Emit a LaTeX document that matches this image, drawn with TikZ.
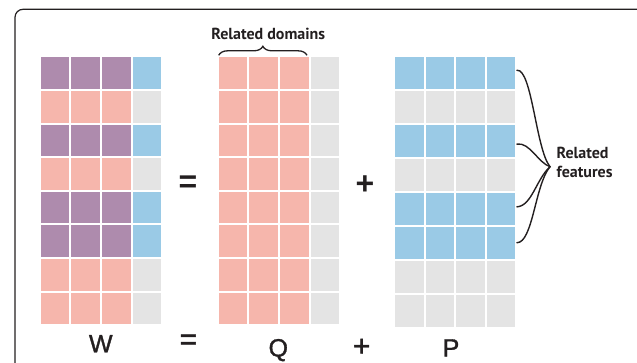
\documentclass[tikz,border=0pt]{standalone}
\usepackage{fontspec}
\setmainfont{Liberation Sans}
\newfontfamily\lblfont{PT Sans}
\newfontfamily\medfont[FakeBold=1.3]{Liberation Sans}
\usetikzlibrary{decorations.pathreplacing}
\definecolor{cpurple}{RGB}{174,139,173}
\definecolor{cpink}{RGB}{246,182,172}
\definecolor{cblue}{RGB}{154,202,230}
\definecolor{cgrey}{RGB}{228,228,228}
\definecolor{cink}{RGB}{35,31,32}
\begin{document}
\begin{tikzpicture}[x=1pt,y=-1pt,
  cell/.style={rectangle, inner sep=0pt, outer sep=0pt, minimum width=28.6pt, minimum height=31.6pt},
  pcell/.style={cell, minimum height=31.9pt},
  bigop/.style={text=cink, inner sep=0pt, font=\bfseries\fontsize{32}{32}\selectfont},
  smallop/.style={text=cink, inner sep=0pt, font=\medfont\fontsize{30}{30}\selectfont},
  mlabel/.style={text=cink, inner sep=0pt, anchor=base, font=\medfont\fontsize{25}{25}\selectfont},
  note/.style={text=cink, inner sep=0pt, font=\lblfont\bfseries\fontsize{16}{19.7}\selectfont},
  link/.style={draw=cink, line width=1.4pt, line cap=round}]
\useasboundingbox (0,0) rectangle (637,362);
\clip (0,0) rectangle (637,362);
\draw[cink, line width=1.2pt, rounded corners=8pt] (15,9.3) rectangle (645,380);
\foreach \r/\hot in {1/1,2/0,3/1,4/0,5/1,6/1,7/0,8/0} {
  \ifnum\hot=1 \def\wc{cpurple}\def\wl{cblue}\def\pc{cblue}
  \else \def\wc{cpink}\def\wl{cgrey}\def\pc{cgrey}\fi
  \pgfmathsetmacro\yc{57.3+(\r-1)*33.6+15.8}
  \pgfmathsetmacro\ypc{57.3+(\r-1)*33.9+15.95}
  \foreach \c in {1,...,4} {
    \pgfmathsetmacro\dx{(\c-1)*30.6+14.3}
    \ifnum\c<4
      \node[cell, fill=\wc] (W-\r-\c) at (40.7+\dx,\yc) {};
      \node[cell, fill=cpink] (Q-\r-\c) at (218.7+\dx,\yc) {};
    \else
      \node[cell, fill=\wl] (W-\r-\c) at (40.7+\dx,\yc) {};
      \node[cell, fill=cgrey] (Q-\r-\c) at (218.7+\dx,\yc) {};
    \fi
    \node[pcell, fill=\pc] (P-\r-\c) at (395+\dx,\ypc) {};
  }
}
% operators between matrices
\node[bigop] (eqmid) at (188,184) {=};
\node[bigop] (plusmid) at (365,184.7) {+};
% bottom labels
\node[mlabel] (Wlbl) at (100.8,352.3) {W};
\node[smallop] (eqbot) at (188.3,342) {=};
\node[mlabel] (Qlbl) at (278.3,356.5) {Q};
\node[smallop] (plusbot) at (361.7,347.5) {+};
\node[mlabel] (Plbl) at (451,356.5) {P};
% related domains
\draw[cink, line width=1.3pt, decorate, decoration={brace, amplitude=9pt}]
  ([yshift=2pt]Q-1-1.north west) -- ([yshift=2pt, xshift=-1.5pt]Q-1-3.north east);
\node[note, anchor=base] (domlbl) at (268.3,39) {Related domains};
% related features
\coordinate (tip) at (550,166.7);
\node[note, anchor=west, align=left] (featlbl) at (556.5,162.5) {Related\\features};
\draw[link] ([xshift=1.5pt, yshift=3pt]P-1-4.east) .. controls +(15,-2) and +(-14,-17) .. (tip);
\draw[link] ([xshift=1.5pt, yshift=-3pt]P-3-4.east) .. controls +(13,-2) and +(-12,-4) .. (tip);
\draw[link] ([xshift=1.5pt, yshift=2pt]P-5-4.east) .. controls +(15,-1) and +(-14,13) .. (tip);
\draw[link] ([xshift=1.5pt]P-6-4.east) .. controls +(16,0) and +(-15,18) .. (tip);
\end{tikzpicture}
\end{document}
